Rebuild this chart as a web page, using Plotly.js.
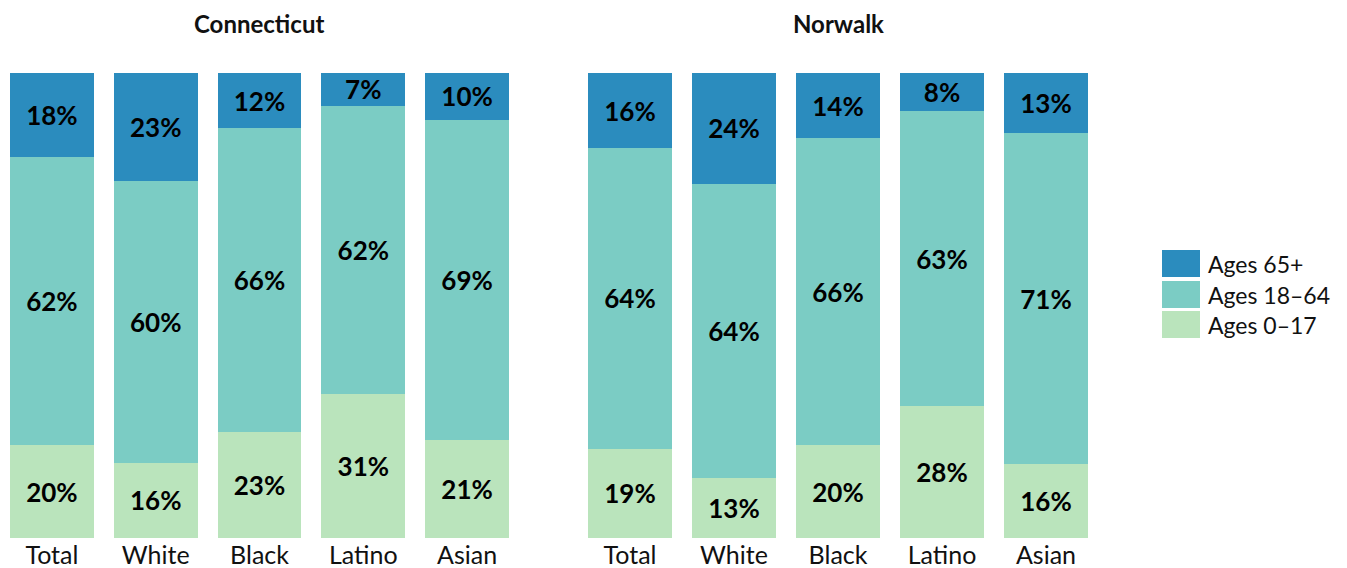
<!DOCTYPE html>
<html>
<head>
<meta charset="utf-8">
<script src="https://cdn.plot.ly/plotly-3.0.1.min.js"></script>
<style>html,body{margin:0;padding:0;background:#fff;}#chart{width:1347px;height:568px;}</style>
</head>
<body>
<div id="chart"></div>
<script>
const categories = ['Total', 'White', 'Black', 'Latino', 'Asian'];
const panelTitles = ['Connecticut', 'Norwalk'];
const seriesNames = ['Ages 65+', 'Ages 18–64', 'Ages 0–17'];

const ctAges0to17 = [20, 16, 23, 31, 21];
const ctAges18to64 = [62, 60, 66, 62, 69];
const ctAges65plus = [18, 23, 12, 7, 10];

const nwAges0to17 = [19, 13, 20, 28, 16];
const nwAges18to64 = [64, 64, 66, 63, 71];
const nwAges65plus = [16, 24, 14, 8, 13];

const colors = {'Ages 65+': '#2b8cbe', 'Ages 18–64': '#7bccc4', 'Ages 0–17': '#bae4bc'};
const FONT = 'Lato, "Open Sans", sans-serif';

function mk(vals, name, xa) {
  return {
    type: 'bar', x: categories, y: vals, text: vals, name: name,
    xaxis: xa, yaxis: 'y',
    marker: {color: colors[name], line: {width: 0}},
    texttemplate: '%{text}%', textposition: 'inside', insidetextanchor: 'middle',
    textangle: 0, constraintext: 'none',
    textfont: {family: FONT, size: 26, color: '#000', weight: 'bold'},
    hoverinfo: 'skip', showlegend: false
  };
}

const data = [
  mk(ctAges0to17, seriesNames[2], 'x'),
  mk(ctAges18to64, seriesNames[1], 'x'),
  mk(ctAges65plus, seriesNames[0], 'x'),
  mk(nwAges0to17, seriesNames[2], 'x2'),
  mk(nwAges18to64, seriesNames[1], 'x2'),
  mk(nwAges65plus, seriesNames[0], 'x2')
];

const W = 1347, H = 568, mT = 73, mB = 30;
const plotH = H - mT - mB;
const px = v => v / W;
const py = v => (H - mB - v) / plotH;

const dom1 = [px(-1), px(519)];
const dom2 = [px(578), px(1098)];

const xax = d => ({
  domain: d, type: 'category', showgrid: false, zeroline: false, showline: false,
  ticks: '', tickfont: {family: FONT, size: 25, color: '#111'}, fixedrange: true
});

const shapes = [];
const annotations = [];
const swTop = [250, 281, 311];
seriesNames.forEach((n, i) => {
  shapes.push({type: 'rect', xref: 'paper', yref: 'paper', x0: px(1162), x1: px(1200),
    y0: py(swTop[i] + 27), y1: py(swTop[i]), fillcolor: colors[n], line: {width: 0}});
  annotations.push({xref: 'paper', yref: 'paper', x: px(1206), y: py(swTop[i] + 13.5),
    xanchor: 'left', yanchor: 'middle', text: n, showarrow: false,
    font: {family: FONT, size: 23, color: '#111'}});
});
[dom1, dom2].forEach((d, i) => {
  annotations.push({xref: 'paper', yref: 'paper', x: (d[0] + d[1]) / 2, y: py(24),
    xanchor: 'center', yanchor: 'middle', text: '<b>' + panelTitles[i] + '</b>', showarrow: false,
    font: {family: FONT, size: 24, color: '#111'}});
});

const layout = {
  width: W, height: H,
  margin: {l: 0, r: 0, t: mT, b: mB, pad: 0},
  paper_bgcolor: '#fff', plot_bgcolor: '#fff',
  barmode: 'stack', barnorm: 'percent', bargap: 0.192,
  showlegend: false,
  xaxis: xax(dom1),
  xaxis2: Object.assign(xax(dom2), {anchor: 'y'}),
  yaxis: {range: [0, 100], visible: false, fixedrange: true},
  shapes: shapes, annotations: annotations,
  font: {family: FONT}
};

Plotly.newPlot('chart', data, layout, {displayModeBar: false, staticPlot: true});
</script>
</body>
</html>
